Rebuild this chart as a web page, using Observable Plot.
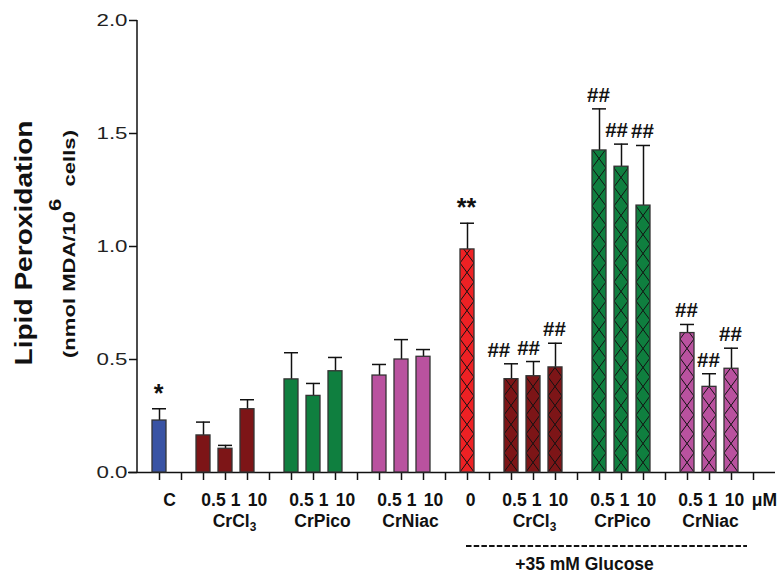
<!DOCTYPE html>
<html><head><meta charset="utf-8">
<script src="https://cdn.jsdelivr.net/npm/d3@7"></script>
<script src="https://cdn.jsdelivr.net/npm/@observablehq/plot@0.6"></script>
<style>
body{margin:0;background:#fff;}
svg{font-family:"Liberation Sans",Arial,sans-serif;}
</style>
</head><body><div id="chart"></div>
<script>
// ---- data ----
const doses     = ["C","0.5","1","10","0.5","1","10","0.5","1","10","0","0.5","1","10","0.5","1","10","0.5","1","10"];
const compounds = ["Control","CrCl3","CrCl3","CrCl3","CrPico","CrPico","CrPico","CrNiac","CrNiac","CrNiac",
                   "Glucose","CrCl3","CrCl3","CrCl3","CrPico","CrPico","CrPico","CrNiac","CrNiac","CrNiac"];
const withGlucose = [false,false,false,false,false,false,false,false,false,false,
                     true,true,true,true,true,true,true,true,true,true];
const means     = [0.230,0.164,0.105,0.280,0.412,0.339,0.448,0.429,0.500,0.512,
                   0.987,0.413,0.426,0.465,1.425,1.353,1.181,0.617,0.379,0.459];
const errUp     = [0.052,0.059,0.015,0.042,0.118,0.055,0.061,0.049,0.088,0.032,
                   0.116,0.068,0.065,0.107,0.184,0.100,0.266,0.038,0.058,0.091];
const signif    = ["*","","","","","","","","","",
                   "**","##","##","##","##","##","##","##","##","##"];
const yTicks    = [0, 0.5, 1.0, 1.5, 2.0];
const palette   = {Control:"#3953A4", CrCl3:"#7D1517", CrPico:"#0F7F3F", CrNiac:"#B9529F", Glucose:"#EE2124"};

// ---- build table & slot layout (a gap slot after every group) ----
const data = means.map((m,i)=>({
  key:"b"+i, dose:doses[i], compound:compounds[i], glucose:withGlucose[i],
  mean:m, top:m+errUp[i], sig:signif[i],
  group: compounds[i]+(withGlucose[i]?"+G":"")
}));
const domain=[]; let g=0;
data.forEach((d,i)=>{ domain.push(d.key); if(i===data.length-1 || data[i+1].group!==d.group) domain.push("gap"+(g++)); });
const groupLabels=[];
d3.groups(data,d=>d.group).forEach(([k,arr])=>{ if(arr.length===3) groupLabels.push({key:arr[1].key,name:arr[1].compound,glucose:arr[1].glucose}); });
const firstG = data.find(d=>d.glucose), lastG = data[data.length-1];
const picoG = data.find(d=>d.glucose && d.compound==="CrPico");

const bold = {fontWeight:"bold", fontSize:17.5, fill:"#111", lineAnchor:"middle", frameAnchor:"bottom"};
const plot = Plot.plot({
  width:781, height:573, marginTop:20, marginBottom:101, marginLeft:137, marginRight:6,
  style:{fontFamily:"Liberation Sans, Arial, sans-serif", background:"white", color:"#111", overflow:"visible"},
  x:{type:"band", domain, paddingInner:0.37, paddingOuter:0.37, axis:null},
  y:{domain:[0,2], axis:null},
  color:{type:"identity"},
  marks:[
    Plot.axisY({ticks:yTicks, tickFormat:d3.format(".1f"), tickSize:8, tickPadding:2, fontSize:17, label:null, stroke:"#111", strokeWidth:1.5, fill:"#222"}),
    Plot.axisX({tickSize:8, tickFormat:()=>"", label:null, stroke:"#111", strokeWidth:1.5}),
    Plot.ruleY([0],{insetLeft:-9, stroke:"#111", strokeWidth:1.5}),
    Plot.ruleX(data,{x:"key", y1:"mean", y2:"top", stroke:"#111", strokeWidth:1.5}),
    Plot.tickY(data,{x:"key", y:"top", stroke:"#111", strokeWidth:1.5}),
    Plot.barY(data,{x:"key", y:"mean", fill:d=>palette[d.compound], stroke:"#333", strokeWidth:1.3,
                    ariaLabel:d=>d.glucose?"hatched":"plain"}),
    Plot.text(data.filter(d=>d.sig),{x:"key", y:"top", text:"sig", lineAnchor:"bottom", dy:-7, dx:-1,
                    fontSize:d=>d.sig.startsWith("*")?25:20.5, fontWeight:"bold", fill:"#111",
                    ariaDescription:"annotations"}),
    Plot.text(data.filter(d=>!d.glucose),{x:"key", text:"dose", dy:28, dx:10, ...bold}),
    Plot.text(data.filter(d=>d.glucose),{x:"key", text:"dose", dy:28, dx:3, ...bold}),
    Plot.text(groupLabels.filter(d=>!d.glucose),{x:"key", text:"name", dy:49, dx:9, ...bold}),
    Plot.text(groupLabels.filter(d=>d.glucose),{x:"key", text:"name", dy:49, dx:1, ...bold}),
    Plot.text(["μM"],{x:()=>domain[domain.length-1], text:d=>d, dy:28, dx:11, ...bold}),
    Plot.text(["+35 mM Glucose"],{x:()=>picoG.key, text:d=>d, dy:91.5, dx:-15, ...bold})
  ]
});
document.getElementById("chart").appendChild(plot);

// ---- post-render decorations ----
const svg = d3.select(plot);
const xs = plot.scale("x"), ys = plot.scale("y");
const bw = xs.bandwidth;
const cx = k => xs.apply(k) + bw/2;
const y0 = ys.apply(0);
// y axis line
svg.append("line").attr("x1",137).attr("x2",137).attr("y1",ys.apply(2)).attr("y2",y0)
   .attr("stroke","#111").attr("stroke-width",1.5);
// widen y tick labels like the original
svg.selectAll('g[aria-label="y-axis tick label"] text').attr("textLength",31).attr("lengthAdjust","spacingAndGlyphs");
// dashed glucose bracket
svg.append("line").attr("x1",cx(firstG.key)-1).attr("x2",cx(lastG.key)+16)
   .attr("y1",y0+74).attr("y2",y0+74).attr("stroke","#111").attr("stroke-width",2.2)
   .attr("stroke-dasharray","5.5,2.2");
// hatch patterns on glucose bars
const defs = svg.append("defs");
const P = 19;
svg.selectAll('rect[aria-label="hatched"]').each(function(_,i){
  const r = d3.select(this);
  const x = +r.attr("x"), w = +r.attr("width"), fill = r.attr("fill");
  const id = "hatch"+i;
  const p = defs.append("pattern").attr("id",id).attr("patternUnits","userSpaceOnUse")
     .attr("x",x).attr("y",y0).attr("width",w).attr("height",P);
  p.append("rect").attr("width",w).attr("height",P).attr("fill",fill);
  p.append("path").attr("d",`M0,0L${w},${P}M${w},0L0,${P}`).attr("stroke","#111").attr("stroke-width",1).attr("fill","none");
  r.attr("fill",`url(#${id})`);
});
// nudge overlapping significance marks apart (right to left)
const ann = svg.selectAll('g[aria-description="annotations"] text').nodes()
  .map(n=>({n, b:n.getBBox(), s:0}))
  .map(o=>{ const m=o.n.getCTM(); return Object.assign(o,{x0:o.b.x+(m?m.e:0), x1:o.b.x+o.b.width+(m?m.e:0), y0:o.b.y+(m?m.f:0), y1:o.b.y+o.b.height+(m?m.f:0)}); })
  .sort((a,b)=>a.x0-b.x0);
for(let i=ann.length-2;i>=0;i--){
  const a=ann[i], b=ann[i+1];
  const vOverlap = a.y0 < b.y1 && b.y0 < a.y1;
  const over = a.x1 - (b.x0 - b.s) + 2.5;
  if(vOverlap && over>0){
    a.s = over; a.x0 -= over; a.x1 -= over;
    const t=a.n.getAttribute("transform")||"";
    a.n.setAttribute("transform", t+` translate(${-over},0)`);
  }
}
// subscript 3 in CrCl3
svg.selectAll("text").filter(function(){return this.textContent==="CrCl3";}).each(function(){
  const t=d3.select(this); t.text("CrCl");
  t.append("tspan").attr("dy","0.32em").attr("font-size","0.68em").text("3");
});
// y title
svg.append("text").attr("transform","translate(32,243) rotate(-90)").attr("text-anchor","middle")
  .attr("font-weight","bold").attr("font-size",24).attr("fill","#111")
  .attr("textLength",245).attr("lengthAdjust","spacingAndGlyphs").text("Lipid Peroxidation");
const sub = svg.append("text").attr("transform","translate(75,244) rotate(-90)").attr("text-anchor","middle")
  .attr("font-weight","bold").attr("font-size",16.5).attr("fill","#111")
  .attr("textLength",228).attr("lengthAdjust","spacingAndGlyphs");
sub.append("tspan").text("(nmol MDA/10");
sub.append("tspan").attr("dy",-14).text("6");
sub.append("tspan").attr("dy",14).text("\u00a0\u00a0cells)");
</script>
</body></html>
